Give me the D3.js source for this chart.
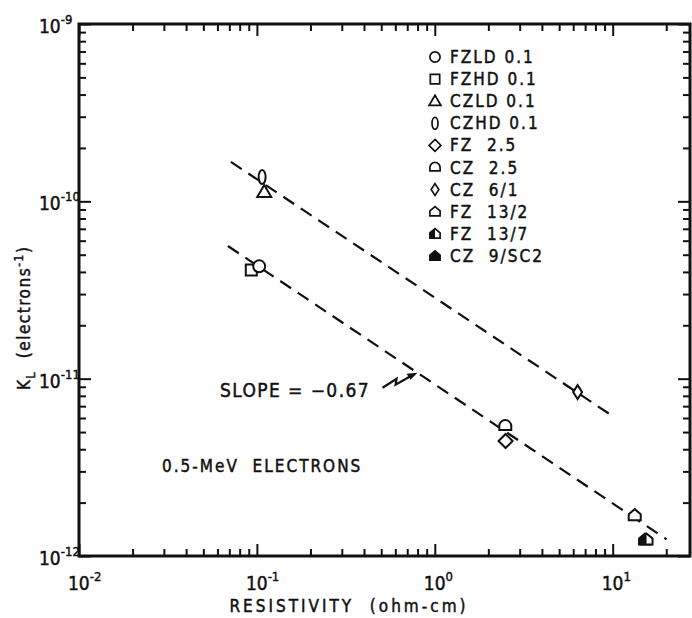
<!DOCTYPE html>
<html>
<head>
<meta charset="utf-8">
<script src="https://cdn.jsdelivr.net/npm/d3@7"></script>
<style>
  body { margin: 0; background: #fff; }
  svg text { font-family: "DejaVu Sans Condensed", "DejaVu Sans", sans-serif; fill: #111; stroke: #111; stroke-width: 0.45; }
</style>
</head>
<body>
<svg id="chart" width="692" height="618"></svg>
<script>
// K_L vs resistivity, 0.5-MeV electrons

let seriesNames = ["FZLD 0.1", "FZHD 0.1", "CZLD 0.1", "CZHD 0.1", "FZ  2.5", "CZ  2.5",
                   "CZ  6/1", "FZ  13/2", "FZ  13/7", "CZ  9/SC2"];
let seriesShapes = ["circle", "square", "triangle", "ellipse", "diamond", "dome",
                    "thinDiamond", "house", "halfHouse", "filledHouse"];
// one point per series: resistivity (ohm-cm), K_L (electrons^-1)
let resistivity = [0.103, 0.093, 0.110, 0.107, 2.5, 2.49, 6.35, 13.3, 15.5, 15.2];
let kL = [4.3e-11, 4.1e-11, 1.13e-10, 1.37e-10, 4.45e-12, 5.4e-12, 8.4e-12, 1.70e-12, 1.24e-12, 1.24e-12];

// dashed fit lines (slope -0.67)
let upperFit = [[0.0714, 1.67e-10], [9.87, 6.2e-12]];
let lowerFit = [[0.0687, 5.6e-11], [20.1, 1.24e-12]];

let xDecades = [-2, -1, 0, 1];
let yDecades = [-12, -11, -10, -9];

let svg = d3.select("#chart");

let x = d3.scaleLog().domain([0.01, 27.2]).range([79, 690]);
let y = d3.scaleLog().domain([1e-12, 1e-9]).range([556, 24]);

let xMajor = xDecades.map(d => Math.pow(10, d));
let yMajor = yDecades.map(d => Math.pow(10, d));
function isDecade(t) {
  let f = Math.abs(Math.log10(t) - Math.round(Math.log10(t)));
  return f < 1e-6;
}
let xMinor = x.ticks().filter(t => !isDecade(t));
let yMinor = y.ticks().filter(t => !isDecade(t));

// inward ticks on all four sides
function tickAxis(axis, vals, size) {
  return axis.tickValues(vals).tickSize(-size).tickFormat("");
}
let pLeft = x.range()[0], pRight = x.range()[1], pBottom = y.range()[0], pTop = y.range()[1];

[[d3.axisBottom(x), pBottom, xMajor, 12], [d3.axisBottom(x), pBottom, xMinor, 7],
 [d3.axisTop(x), pTop, xMajor, 12], [d3.axisTop(x), pTop, xMinor, 7]].forEach(a => {
  svg.append("g").attr("class", "ax")
    .attr("transform", "translate(0," + a[1] + ")")
    .call(tickAxis(a[0], a[2], a[3]));
});
[[d3.axisLeft(y), pLeft, yMajor, 12], [d3.axisLeft(y), pLeft, yMinor, 7],
 [d3.axisRight(y), pRight, yMajor, 12], [d3.axisRight(y), pRight, yMinor, 7]].forEach(a => {
  svg.append("g").attr("class", "ax")
    .attr("transform", "translate(" + a[1] + ",0)")
    .call(tickAxis(a[0], a[2], a[3]));
});
svg.selectAll(".ax .domain").remove();
svg.selectAll(".ax line").attr("stroke", "#111").attr("stroke-width", 2);

// frame
svg.append("rect")
  .attr("x", pLeft).attr("y", pTop)
  .attr("width", pRight - pLeft).attr("height", pBottom - pTop)
  .attr("fill", "none").attr("stroke", "#111").attr("stroke-width", 3);

// tick labels with superscripts
xDecades.forEach(d => {
  let t = svg.append("text")
    .attr("x", x(Math.pow(10, d)) - 11)
    .attr("y", 590)
    .attr("font-size", 19);
  t.append("tspan").text("10");
  t.append("tspan").attr("dy", -9).attr("font-size", 13).text(d === 0 ? "0" : (d < 0 ? "-" + (-d) : d));
});
yDecades.forEach(d => {
  let t = svg.append("text")
    .attr("x", 39)
    .attr("y", y(Math.pow(10, d)) + 9)
    .attr("font-size", 19);
  t.append("tspan").text("10");
  t.append("tspan").attr("dy", -9).attr("font-size", 13).text("-" + (-d));
});

// axis titles
svg.append("text")
  .attr("x", 349).attr("y", 612)
  .attr("text-anchor", "middle")
  .attr("font-size", 17)
  .attr("letter-spacing", 3)
  .attr("xml:space", "preserve")
  .text("RESISTIVITY  (ohm-cm)");

let yt = svg.append("text")
  .attr("transform", "translate(30,390) rotate(-90)")
  .attr("font-size", 17)
  .attr("letter-spacing", 1.5)
  .attr("xml:space", "preserve");
yt.append("tspan").text("K");
yt.append("tspan").attr("dy", 5).attr("font-size", 12).text("L");
yt.append("tspan").attr("dy", -5).text("  (electrons");
yt.append("tspan").attr("dy", -7).attr("font-size", 12).text("-1");
yt.append("tspan").attr("dy", 7).text(")");

// dashed fit lines
let line = d3.line().x(d => x(d[0])).y(d => y(d[1]));
[upperFit, lowerFit].forEach(f => {
  svg.append("path")
    .attr("d", line(f))
    .attr("fill", "none")
    .attr("stroke", "#111")
    .attr("stroke-width", 2.2)
    .attr("stroke-dasharray", "13,8");
});

// marker shapes
function shapePath(s) {
  switch (s) {
    case "circle": return "M-6,0A6,6 0 1,0 6,0A6,6 0 1,0 -6,0Z";
    case "square": return "M-5.5,-5.5H5.5V5.5H-5.5Z";
    case "triangle": return "M0,-7L7,5H-7Z";
    case "ellipse": return "M0,-7A3.5,7 0 1,0 0,7A3.5,7 0 1,0 0,-7Z";
    case "diamond": return "M0,-7L7,0L0,7L-7,0Z";
    case "dome": return "M-6,4V0A6,6 0 0,1 6,0V4Z";
    case "thinDiamond": return "M0,-7L4.5,0L0,7L-4.5,0Z";
    default: return "M-6,5V-1L0,-6L6,-1V5Z";
  }
}
function drawMarker(g, s) {
  g.append("path")
    .attr("d", shapePath(s))
    .attr("fill", s === "filledHouse" ? "#111" : "#fff")
    .attr("stroke", "#111")
    .attr("stroke-width", 2);
  if (s === "halfHouse") {
    g.append("path").attr("d", "M-6,5V-1L0,-6V5Z").attr("fill", "#111");
  }
}

// points (filled CZ 9/SC2 drawn first so the half-filled FZ 13/7 sits over it)
let order = d3.range(seriesNames.length).reverse();
order.forEach(i => {
  let g = svg.append("g").attr("transform", "translate(" + x(resistivity[i]) + "," + y(kL[i]) + ")");
  drawMarker(g, seriesShapes[i]);
});

// legend
let legend = svg.append("g");
seriesNames.forEach((n, i) => {
  let cy = 57 + i * 22.1;
  let g = legend.append("g").attr("transform", "translate(435," + cy + ") scale(0.85)");
  drawMarker(g, seriesShapes[i]);
  legend.append("text")
    .attr("x", 450).attr("y", cy + 6)
    .attr("font-size", 17)
    .attr("letter-spacing", 2)
    .attr("xml:space", "preserve")
    .text(n);
});

// annotations
svg.append("text")
  .attr("x", 220).attr("y", 397)
  .attr("font-size", 19)
  .attr("letter-spacing", 1.4)
  .text("SLOPE = \u22120.67");

let tipX = x(0.8), tipY = y(1.08e-11);
svg.append("path")
  .attr("d", "M" + (tipX - 35) + "," + (tipY + 15) + "L" + (tipX - 21) + "," + (tipY + 6) +
             "L" + (tipX - 22) + "," + (tipY + 12) + "L" + (tipX - 8) + "," + (tipY + 4))
  .attr("fill", "none").attr("stroke", "#111").attr("stroke-width", 2.2);
svg.append("path")
  .attr("d", "M" + tipX + "," + tipY + "L" + (tipX - 11) + "," + (tipY + 1) + "L" + (tipX - 7) + "," + (tipY + 7) + "Z")
  .attr("fill", "#111");

svg.append("text")
  .attr("x", 162).attr("y", 472)
  .attr("font-size", 17)
  .attr("letter-spacing", 2)
  .attr("xml:space", "preserve")
  .text("0.5-MeV  ELECTRONS");
</script>
</body>
</html>
